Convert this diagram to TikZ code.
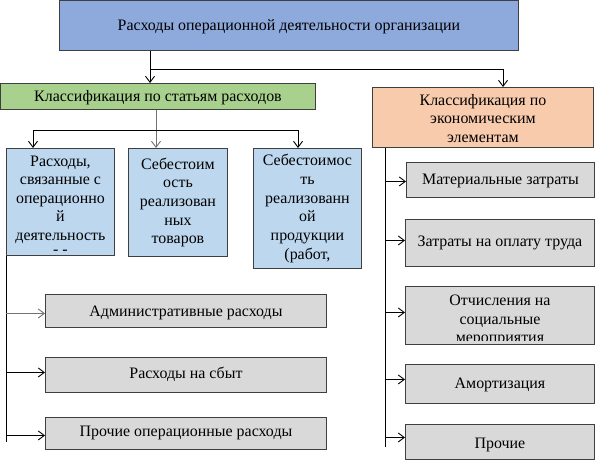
\documentclass[tikz,border=0pt]{standalone}
\usepackage{fontspec}
\setmainfont{Liberation Serif}
\newfontfamily\lserif{Liberation Serif}
\usetikzlibrary{arrows.meta}
\definecolor{topc}{HTML}{8EA9DB}
\definecolor{greenc}{HTML}{A9D18E}
\definecolor{orangec}{HTML}{F8CBAD}
\definecolor{bluec}{HTML}{BDD7EE}
\definecolor{greyc}{HTML}{D9D9D9}
\definecolor{bordc}{HTML}{3F3F3F}
\newcommand\fs{\lserif\fontsize{16}{18.7}\selectfont}
% name, x, y, w, h, fill, dy, text
\newcommand\MkBox[8]{%
  \node[box, fill=#6, minimum width=#4bp, minimum height=#5bp,
    path picture={%
      \clip ([yshift=4bp]path picture bounding box.south west) rectangle (path picture bounding box.north east);
      \node[txt] at ([yshift=#7bp]path picture bounding box.center) {#8};}] (#1) at (#2,#3) {};}
\begin{document}
\begin{tikzpicture}[x=1bp,y=-1bp,
  box/.style={draw=bordc, line width=0.9bp, inner sep=0pt, anchor=north west},
  txt/.style={font=\fs, align=center, inner sep=0pt, anchor=center, draw=none, fill=none},
  conn/.style={line width=0.9bp, draw=black},
  gconn/.style={line width=0.9bp, draw=black!55},
  arr/.style={conn, -{Straight Barb[length=6bp,width=9bp]}},
  garr/.style={gconn, -{Straight Barb[length=6bp,width=9bp]}},
]
\useasboundingbox (0,0) rectangle (596,462);

\MkBox{t}{59}{0.5}{459}{49.5}{topc}{-1}{Расходы операционной деятельности организации}
\MkBox{g}{0.5}{83}{314}{26}{greenc}{-1}{Классификация по статьям расходов}
\MkBox{o}{372}{87}{221}{60}{orangec}{-1}{Классификация по\\экономическим\\элементам}

\MkBox{b1}{6}{148}{108}{107}{bluec}{-3}{Расходы,\\связанные с\\операционно\\й\\деятельность\\[-5bp]- -}
\MkBox{b2}{128}{148}{99}{108}{bluec}{0}{Себестоим\\ость\\реализован\\ных\\товаров}
\MkBox{b3}{253}{148}{108}{120}{bluec}{0}{Себестоимос\\ть\\реализованн\\ой\\продукции\\(работ,}

\MkBox{l1}{45}{294}{281}{33}{greyc}{-2}{Административные расходы}
\MkBox{l2}{45}{357}{281}{35}{greyc}{1}{Расходы на сбыт}
\MkBox{l3}{45}{417}{281}{32}{greyc}{0}{Прочие операционные расходы}

\MkBox{r1}{406}{162}{188}{35}{greyc}{-1}{Материальные затраты}
\MkBox{r2}{405}{219}{189}{47}{greyc}{0}{Затраты на оплату труда}
\MkBox{r3}{405}{286}{189}{58}{greyc}{-5}{Отчисления на\\социальные\\мероприятия}
\MkBox{r4}{405}{364}{189}{39}{greyc}{-1}{Амортизация}
\MkBox{r5}{405}{424}{189}{35}{greyc}{-3}{Прочие}

% top level connectors
\coordinate (j1) at (150,69);
\coordinate (j2) at (503,69);
\draw[conn] (t.south -| j1) -- (j1) -- (j2);
\draw[arr] (j1) -- (g.north -| j1);
\draw[arr] (j2) -- (o.north -| j2);

% green to blue
\coordinate (k1) at (33,130);
\coordinate (k2) at (156,130);
\coordinate (k3) at (298,130);
\draw[garr] (g.south -| k2) -- (b2.north -| k2);
\draw[conn] (k1) -- (k3);
\draw[arr] (k1) -- (b1.north -| k1);
\draw[arr] (k3) -- (b3.north -| k3);

% left trunk
\coordinate (lend) at (6,442);
\draw[conn] (b1.south west) -- (lend);
\draw[garr] ([yshift=-2.5bp]l1.west -| lend) -- ([yshift=-2.5bp]l1.west);
\draw[arr] ([yshift=2.5bp]l2.west -| lend) -- ([yshift=2.5bp]l2.west);
\draw[arr] ([yshift=-2bp]l3.west -| lend) -- ([yshift=-2bp]l3.west);

% right trunk
\coordinate (rend) at (385,447);
\draw[conn] (o.south -| rend) -- (rend);
\draw[arr] ([yshift=-1.5bp]r1.west -| rend) -- ([yshift=-1.5bp]r1.west);
\draw[arr] ([yshift=2.5bp]r2.west -| rend) -- ([yshift=2.5bp]r2.west);
\draw[arr] ([yshift=3bp]r3.west -| rend) -- ([yshift=3bp]r3.west);
\draw[arr] ([yshift=4.5bp]r4.west -| rend) -- ([yshift=4.5bp]r4.west);
\draw[arr] ([yshift=4.5bp]r5.west -| rend) -- ([yshift=4.5bp]r5.west);
\end{tikzpicture}
\end{document}
